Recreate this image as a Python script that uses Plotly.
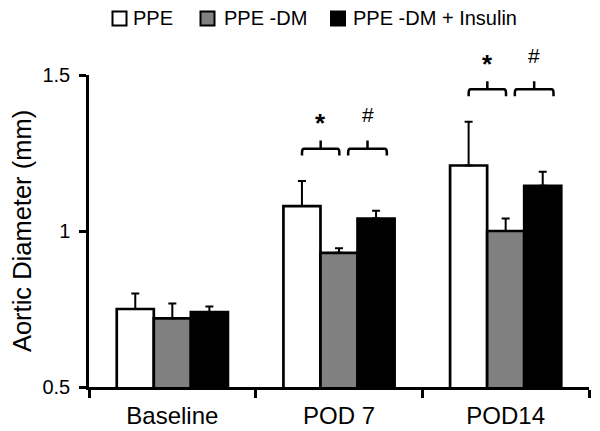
import plotly.graph_objects as go

categories = ["Baseline", "POD 7", "POD14"]
series_names = ["PPE", "PPE -DM", "PPE -DM + Insulin"]
ppe = [0.75, 1.08, 1.21]
ppe_err = [0.05, 0.08, 0.14]
ppe_dm = [0.72, 0.93, 1.00]
ppe_dm_err = [0.048, 0.015, 0.04]
ppe_dm_ins = [0.74, 1.04, 1.145]
ppe_dm_ins_err = [0.018, 0.025, 0.045]
fills = ["white", "#808080", "black"]

y_ticks = [0.5, 1, 1.5]
y_ticktext = ["0.5", "1", "1.5"]

sig_groups = [1, 2]           # indices of categories with brackets
sig_left = ["*", "*"]
sig_right = ["#", "#"]

FONT = "Liberation Sans, Arial, sans-serif"

# The page adds an 8 px body margin; figure coords = page coords - 8
OFF = 8
W, H = 600, 431
L, T = 89 - OFF, 75 - OFF
R = W - (589 - OFF)
B = H - (387 - OFF)
PW, PH = W - L - R, H - T - B
YMIN, YMAX = 0.5, 1.5


def px2paper_x(px):  # px in page coordinates
    return (px - OFF - L) / PW


def px2paper_y(py):
    return (H - B - (py - OFF)) / PH


fig = go.Figure()
for name, vals, errs, col in zip(series_names, [ppe, ppe_dm, ppe_dm_ins],
                                 [ppe_err, ppe_dm_err, ppe_dm_ins_err], fills):
    fig.add_trace(go.Bar(
        x=categories, y=vals, name=name,
        marker=dict(color=col, line=dict(color="black", width=2.7)),
        error_y=dict(type="data", array=errs, arrayminus=[0] * len(errs),
                     symmetric=False, color="black", thickness=2, width=4),
    ))

shapes = []
annotations = []

# significance brackets
for g, sl, sr in zip(sig_groups, sig_left, sig_right):
    top = max(ppe[g] + ppe_err[g], ppe_dm[g] + ppe_dm_err[g],
              ppe_dm_ins[g] + ppe_dm_ins_err[g])
    yh = top + 0.104
    drop = 0.022
    rise = 0.026
    r = 0.012
    ry = 0.012
    for (xa, xb, lab, fs, dy) in [(g - 0.222, g + 0.002, "<b>" + sl + "</b>", 26, 0.082),
                                  (g + 0.055, g + 0.287, sr, 21, 0.110)]:
        xm = (xa + xb) / 2
        path = (f"M {xa},{yh - drop} L {xa},{yh - ry} Q {xa},{yh} {xa + r},{yh} "
                f"L {xb - r},{yh} Q {xb},{yh} {xb},{yh - ry} L {xb},{yh - drop}")
        shapes.append(dict(type="path", xref="x", yref="y", path=path,
                           line=dict(color="black", width=2.5)))
        shapes.append(dict(type="line", xref="x", yref="y", x0=xm, x1=xm,
                           y0=yh, y1=yh + rise, line=dict(color="black", width=2.5)))
        annotations.append(dict(x=xm, y=(yh + dy - YMIN) / (YMAX - YMIN),
                                xref="x", yref="paper", text=lab,
                                showarrow=False, yanchor="middle",
                                font=dict(size=fs, color="black", family=FONT)))

# legend drawn as boxes + labels (page pixel positions)
leg_box_cx = [119.5, 207.5, 338]
leg_text_x = [131, 222, 351]
leg_cy = 18.5
half = 7
for name, col, cx, tx in zip(series_names, fills, leg_box_cx, leg_text_x):
    shapes.append(dict(type="rect", xref="paper", yref="paper",
                       x0=px2paper_x(cx - half), x1=px2paper_x(cx + half),
                       y0=px2paper_y(leg_cy + half), y1=px2paper_y(leg_cy - half),
                       fillcolor=col, line=dict(color="black", width=2)))
    annotations.append(dict(x=px2paper_x(tx), y=px2paper_y(leg_cy),
                            xref="paper", yref="paper", text=name,
                            showarrow=False, xanchor="left", yanchor="middle",
                            font=dict(size=20, color="black", family=FONT)))

fig.update_layout(
    width=W, height=H,
    margin=dict(l=L, r=R, t=T, b=B, autoexpand=False),
    paper_bgcolor="white", plot_bgcolor="white",
    barmode="group", bargap=0.333, bargroupgap=0,
    font=dict(family=FONT, size=20, color="black"),
    showlegend=False,
    shapes=shapes, annotations=annotations,
)
fig.update_xaxes(
    type="category", showline=True, linecolor="black", linewidth=2.5,
    ticks="outside", tickson="boundaries", ticklen=8, tickwidth=2.5,
    tickcolor="black", showgrid=False, tickfont=dict(size=24),
    ticklabelstandoff=5,
)
fig.update_yaxes(
    range=[YMIN, YMAX], showline=True, linecolor="black", linewidth=2.5,
    ticks="outside", ticklen=7, tickwidth=2.5, tickcolor="black",
    tickvals=y_ticks, ticktext=y_ticktext, showgrid=False, zeroline=False,
    tickfont=dict(size=20), ticklabelstandoff=5,
    title=dict(text="Aortic Diameter (mm)", font=dict(size=25.5), standoff=4),
)

fig.write_html("out.html")
